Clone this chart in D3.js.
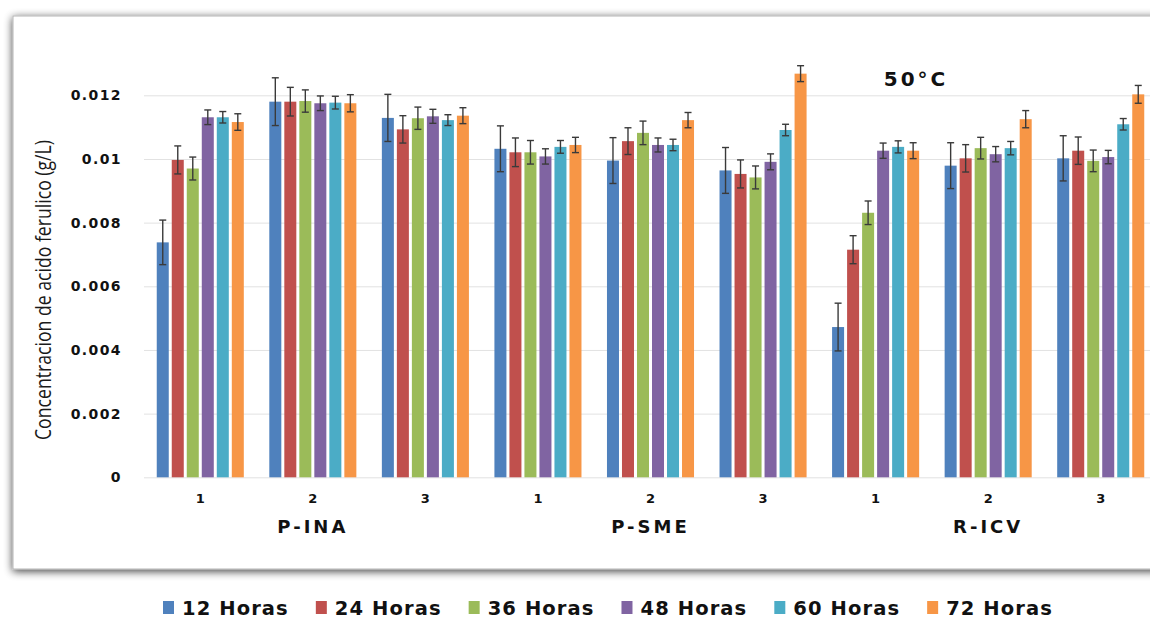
<!DOCTYPE html>
<html>
<head>
<meta charset="utf-8">
<script src="https://cdn.jsdelivr.net/npm/d3@7"></script>
<style>
  body { margin: 0; background: #ffffff; }
  svg { display: block; }
</style>
</head>
<body>
<svg id="chart" width="1150" height="620"></svg>
<script>
// Sample groups (site + replicate) along the x axis
const groups = ["P-INA 1", "P-INA 2", "P-INA 3", "P-SME 1", "P-SME 2", "P-SME 3", "R-ICV 1", "R-ICV 2", "R-ICV 3"];
const groupTickLabels = ["1", "2", "3", "1", "2", "3", "1", "2", "3"];
const sites = ["P-INA", "P-SME", "R-ICV"];

// Incubation times (series) and their colours
const seriesNames = ["12 Horas", "24 Horas", "36 Horas", "48 Horas", "60 Horas", "72 Horas"];
const seriesColors = ["#4f81bd", "#c0504d", "#9bbb59", "#8064a2", "#4bacc6", "#f79646"];

// Ferulic acid concentration (g/L) per group, one array per time
const h12 = [0.00738, 0.01180, 0.01129, 0.01032, 0.00995, 0.00964, 0.00472, 0.00979, 0.01002];
const h24 = [0.00997, 0.01180, 0.01093, 0.01021, 0.01056, 0.00953, 0.00715, 0.01002, 0.01026];
const h36 = [0.00970, 0.01182, 0.01128, 0.01021, 0.01082, 0.00942, 0.00831, 0.01034, 0.00994];
const h48 = [0.01131, 0.01175, 0.01134, 0.01008, 0.01044, 0.00991, 0.01026, 0.01015, 0.01006];
const h60 = [0.01131, 0.01177, 0.01122, 0.01038, 0.01044, 0.01091, 0.01038, 0.01034, 0.01109];
const h72 = [0.01116, 0.01175, 0.01136, 0.01044, 0.01122, 0.01268, 0.01026, 0.01125, 0.01203];

// Standard deviations (error bars)
const e12 = [0.00070, 0.00075, 0.00074, 0.00072, 0.00072, 0.00072, 0.00075, 0.00072, 0.00071];
const e24 = [0.00044, 0.00045, 0.00043, 0.00045, 0.00042, 0.00044, 0.00044, 0.00043, 0.00043];
const e36 = [0.00036, 0.00035, 0.00035, 0.00037, 0.00037, 0.00036, 0.00037, 0.00034, 0.00034];
const e48 = [0.00023, 0.00023, 0.00022, 0.00024, 0.00022, 0.00025, 0.00024, 0.00024, 0.00021];
const e60 = [0.00018, 0.00020, 0.00017, 0.00020, 0.00018, 0.00018, 0.00019, 0.00021, 0.00018];
const e72 = [0.00026, 0.00027, 0.00025, 0.00024, 0.00024, 0.00025, 0.00025, 0.00027, 0.00028];

// Y axis ticks
const yTickValues = [0, 0.002, 0.004, 0.006, 0.008, 0.01, 0.012];
const yTickLabels = ["0", "0.002", "0.004", "0.006", "0.008", "0.01", "0.012"];

const titleText = "50°C";
const yTitle = "Concentracion de acido ferulico (g/L)";

const seriesValues = [h12, h24, h36, h48, h60, h72];
const seriesErrors = [e12, e24, e36, e48, e60, e72];

const svg = d3.select("#chart");

// ---- framed panel with soft shadow ----
const defs = svg.append("defs");
const f = defs.append("filter").attr("id", "shadow")
  .attr("x", "-5%").attr("y", "-5%").attr("width", "110%").attr("height", "115%");
f.append("feGaussianBlur").attr("in", "SourceAlpha").attr("stdDeviation", 4).attr("result", "b");
f.append("feOffset").attr("in", "b").attr("dx", 0).attr("dy", 2).attr("result", "o");
f.append("feComponentTransfer").attr("in", "o").attr("result", "s")
  .append("feFuncA").attr("type", "linear").attr("slope", 0.75);
const fm = f.append("feMerge");
fm.append("feMergeNode").attr("in", "s");
fm.append("feMergeNode").attr("in", "SourceGraphic");

svg.append("rect")
  .attr("x", 13).attr("y", 16).attr("width", 1160).attr("height", 553)
  .attr("fill", "#ffffff").attr("stroke", "#b5b5b5").attr("stroke-width", 1)
  .attr("filter", "url(#shadow)");

// ---- scales ----
const plotLeft = 144, plotRight = 1157;
const x0 = d3.scaleBand().domain(groups).range([plotLeft, plotRight]).padding(0);
const x1 = d3.scaleBand().domain(seriesNames)
  .range([12.75, x0.bandwidth() - 12.75]).paddingInner(0.2).paddingOuter(0);
const y = d3.scaleLinear().domain([0, 0.014]).range([477.3, 477.3 - 0.014 * 31833]);
const color = d3.scaleOrdinal().domain(seriesNames).range(seriesColors);

// ---- gridlines ----
svg.append("g")
  .attr("transform", `translate(${plotLeft},0)`)
  .call(d3.axisLeft(y).tickValues(yTickValues).tickSize(-(plotRight - plotLeft)).tickFormat(""))
  .call(g => g.select(".domain").remove())
  .call(g => g.selectAll("line").attr("stroke", "#e2e2e2").attr("stroke-width", 1));

// ---- y axis labels ----
svg.append("g")
  .attr("transform", "translate(130,0)")
  .call(d3.axisLeft(y).tickValues(yTickValues).tickSize(0).tickPadding(8)
    .tickFormat((d, i) => yTickLabels[i]))
  .call(g => g.select(".domain").remove())
  .call(g => g.selectAll("text")
    .attr("font-family", "DejaVu Sans, Verdana, sans-serif")
    .attr("font-weight", "bold").attr("font-size", 14)
    .attr("letter-spacing", 1.4)
    .attr("fill", "#111"));

// ---- x axis labels ----
svg.append("g")
  .attr("transform", `translate(0,${y(0)})`)
  .call(d3.axisBottom(x0).tickSize(0).tickPadding(16)
    .tickFormat((d, i) => groupTickLabels[i]))
  .call(g => g.select(".domain").remove())
  .call(g => g.selectAll("text")
    .attr("font-family", "DejaVu Sans, Verdana, sans-serif")
    .attr("font-weight", "bold").attr("font-size", 13)
    .attr("fill", "#111"));

// site names under the middle replicate of each site
svg.append("g").selectAll("text")
  .data(sites)
  .join("text")
  .attr("x", (d, i) => x0(groups[i * 3 + 1]) + x0.bandwidth() / 2)
  .attr("y", 533)
  .attr("text-anchor", "middle")
  .attr("font-family", "DejaVu Sans, Verdana, sans-serif")
  .attr("font-weight", "bold").attr("font-size", 18)
  .attr("letter-spacing", 3)
  .attr("fill", "#111")
  .text(d => d);

// ---- bars ----
const rows = [];
groups.forEach((g, gi) => {
  seriesNames.forEach((s, si) => {
    rows.push({ group: g, series: s, value: seriesValues[si][gi], err: seriesErrors[si][gi] });
  });
});

const barG = svg.append("g");
barG.selectAll("rect")
  .data(rows)
  .join("rect")
  .attr("x", d => x0(d.group) + x1(d.series))
  .attr("y", d => y(d.value))
  .attr("width", x1.bandwidth())
  .attr("height", d => y(0) - y(d.value))
  .attr("fill", d => color(d.series));

// ---- error bars ----
const errG = svg.append("g").attr("stroke", "#3a3a3a").attr("stroke-width", 1.4);
const cap = 3.5;
errG.selectAll("g")
  .data(rows)
  .join("g")
  .each(function (d) {
    const cx = x0(d.group) + x1(d.series) + x1.bandwidth() / 2;
    const top = y(d.value + d.err), bot = y(d.value - d.err);
    const s = d3.select(this);
    s.append("line").attr("x1", cx).attr("x2", cx).attr("y1", top).attr("y2", bot);
    s.append("line").attr("x1", cx - cap).attr("x2", cx + cap).attr("y1", top).attr("y2", top);
    s.append("line").attr("x1", cx - cap).attr("x2", cx + cap).attr("y1", bot).attr("y2", bot);
  });

// ---- title inside the panel ----
svg.append("text")
  .attr("x", 916).attr("y", 86)
  .attr("text-anchor", "middle")
  .attr("font-family", "DejaVu Sans, Verdana, sans-serif")
  .attr("font-weight", "bold").attr("font-size", 20)
  .attr("letter-spacing", 3)
  .attr("fill", "#111")
  .text(titleText);

// ---- y axis title (condensed to fit the axis height) ----
svg.append("text")
  .attr("transform", "translate(51,290) rotate(-90)")
  .attr("text-anchor", "middle")
  .attr("font-family", "Liberation Sans Narrow, Arial Narrow, Open Sans, sans-serif")
  .attr("font-size", 21)
  .attr("textLength", 300)
  .attr("lengthAdjust", "spacingAndGlyphs")
  .attr("fill", "#1a1a1a")
  .text(yTitle);

// ---- legend ----
const legend = svg.append("g").attr("transform", "translate(163,0)");
let lx = 0;
seriesNames.forEach((s, i) => {
  const item = legend.append("g").attr("transform", `translate(${lx},0)`);
  item.append("rect").attr("x", 0).attr("y", 601).attr("width", 11).attr("height", 13)
    .attr("fill", seriesColors[i]);
  const t = item.append("text").attr("x", 19).attr("y", 614.5)
    .attr("font-family", "DejaVu Sans, Verdana, sans-serif")
    .attr("font-weight", "bold").attr("font-size", 19.5)
    .attr("letter-spacing", 1.1)
    .attr("fill", "#111")
    .text(s);
  lx += 19 + t.node().getComputedTextLength() + 27;
});
</script>
</body>
</html>
